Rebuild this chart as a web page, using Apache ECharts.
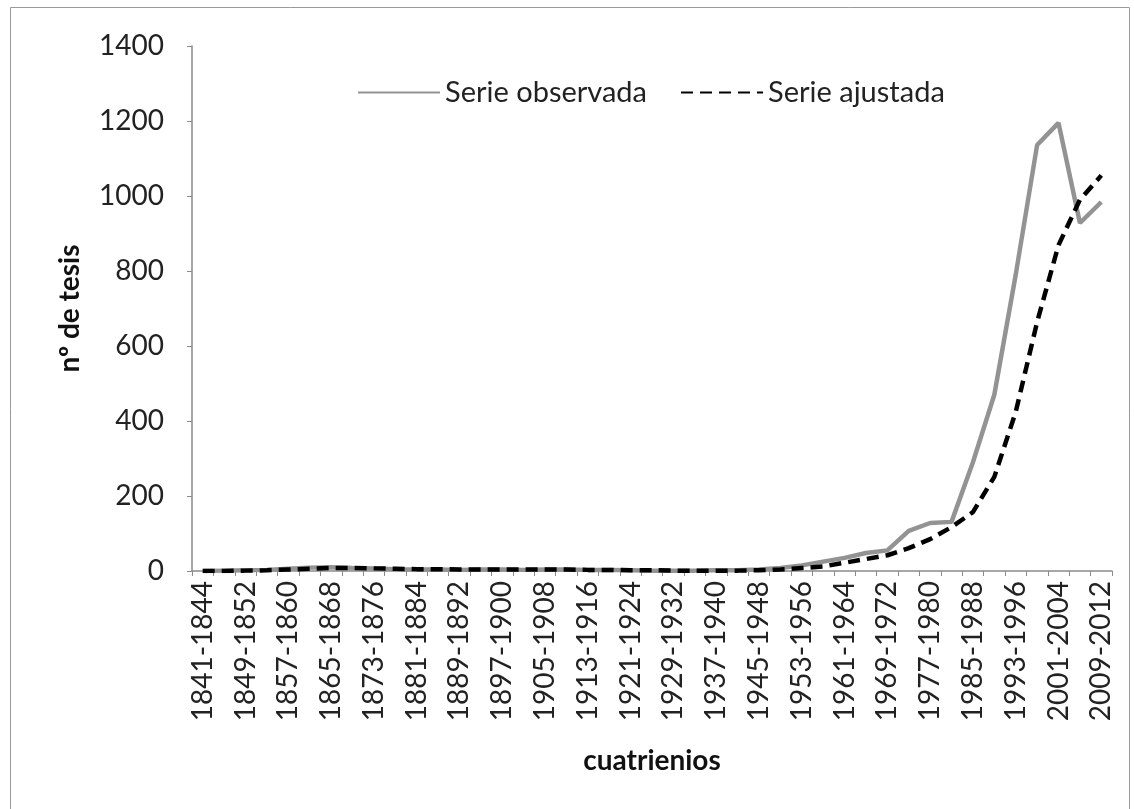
<!DOCTYPE html>
<html>
<head>
<meta charset="utf-8">
<title>Tesis por cuatrienio</title>
<script src="https://cdn.jsdelivr.net/npm/echarts@6/dist/echarts.min.js"></script>
<style>
  html, body { margin: 0; padding: 0; background: #fff; }
  #chart { width: 1134px; height: 809px; }
</style>
</head>
<body>
<div id="chart"></div>
<script>
// periodos de cuatro años, 1841-1844 ... 2009-2012
var cuatrienios = [
  "1841-1844", "1845-1848", "1849-1852", "1853-1856", "1857-1860", "1861-1864",
  "1865-1868", "1869-1872", "1873-1876", "1877-1880", "1881-1884", "1885-1888",
  "1889-1892", "1893-1896", "1897-1900", "1901-1904", "1905-1908", "1909-1912",
  "1913-1916", "1917-1920", "1921-1924", "1925-1928", "1929-1932", "1933-1936",
  "1937-1940", "1941-1944", "1945-1948", "1949-1952", "1953-1956", "1957-1960",
  "1961-1964", "1965-1968", "1969-1972", "1973-1976", "1977-1980", "1981-1984",
  "1985-1988", "1989-1992", "1993-1996", "1997-2000", "2001-2004", "2005-2008",
  "2009-2012"
];

// valores
var serieObservada = [
  0, 1, 2, 3, 6, 9, 10, 8, 7, 5,
  4, 4, 3, 4, 4, 3, 4, 4, 3, 3,
  2, 1, 1, 1, 2, 2, 4, 8, 15, 25,
  35, 48, 55, 107, 128, 131, 290, 470, 790, 1136,
  1195, 928, 984
];
var serieAjustada = [
  0, 0, 1, 2, 4, 6, 8, 8, 7, 6,
  5, 5, 4, 4, 4, 4, 4, 4, 3, 3,
  2, 2, 1, 1, 1, 1, 2, 4, 8, 12,
  22, 32, 42, 61, 85, 117, 157, 251, 424, 664,
  869, 990, 1055
];

var yMin = 0, yMax = 1400, yStep = 200;

var chart = echarts.init(document.getElementById("chart"));

var font = "Lato, 'Open Sans', sans-serif";

var option = {
  backgroundColor: "#fff",
  animation: false,
  // marco exterior
  graphic: [{
    type: "rect",
    shape: { x: 10.5, y: 7.5, width: 1119, height: 830 },
    style: { fill: "none", stroke: "#9a9a9a", lineWidth: 1 },
    silent: true
  }],
  legend: {
    top: 73,
    left: 352,
    itemWidth: 82,
    itemHeight: 10,
    itemGap: 33,
    itemTextGap: 6,
    itemStyle: { opacity: 0 },
    textStyle: { fontFamily: font, fontSize: 29, color: "#222" },
    data: ["Serie observada", "Serie ajustada"]
  },
  grid: {
    left: 192,
    right: 22,
    top: 46,
    bottom: 238
  },
  xAxis: {
    type: "category",
    data: cuatrienios,
    boundaryGap: true,
    name: "cuatrienios",
    nameLocation: "middle",
    nameGap: 176,
    nameTextStyle: { fontFamily: font, fontSize: 28, fontWeight: "bold", color: "#111" },
    axisLine: { lineStyle: { color: "#8a8a8a", width: 1.5 } },
    axisTick: { show: true, alignWithLabel: false, interval: 0, length: 5, lineStyle: { color: "#8a8a8a" } },
    axisLabel: {
      interval: 1,
      rotate: 90,
      margin: 10,
      fontFamily: font,
      fontSize: 28,
      color: "#222"
    },
    splitLine: { show: false }
  },
  yAxis: {
    type: "value",
    min: yMin,
    max: yMax,
    interval: yStep,
    name: "nº de tesis",
    nameLocation: "middle",
    nameGap: 108,
    nameRotate: 90,
    nameTextStyle: { fontFamily: font, fontSize: 28, fontWeight: "bold", color: "#111" },
    axisLine: { show: true, lineStyle: { color: "#8a8a8a", width: 1.5 } },
    axisTick: { show: true, length: 5, lineStyle: { color: "#8a8a8a" } },
    axisLabel: {
      margin: 28,
      fontFamily: font,
      fontSize: 28,
      color: "#222",
      formatter: function (v) { return String(v); }
    },
    splitLine: { show: false }
  },
  series: [
    {
      name: "Serie observada",
      type: "line",
      data: serieObservada,
      symbol: "none",
      lineStyle: { color: "#939393", width: 4.5 },
      itemStyle: { color: "#939393" },
      z: 2
    },
    {
      name: "Serie ajustada",
      type: "line",
      data: serieAjustada,
      symbol: "none",
      lineStyle: { color: "#000", width: 4.5, type: [12, 7] },
      itemStyle: { color: "#000" },
      z: 3
    }
  ]
};

chart.setOption(option);
</script>
</body>
</html>
